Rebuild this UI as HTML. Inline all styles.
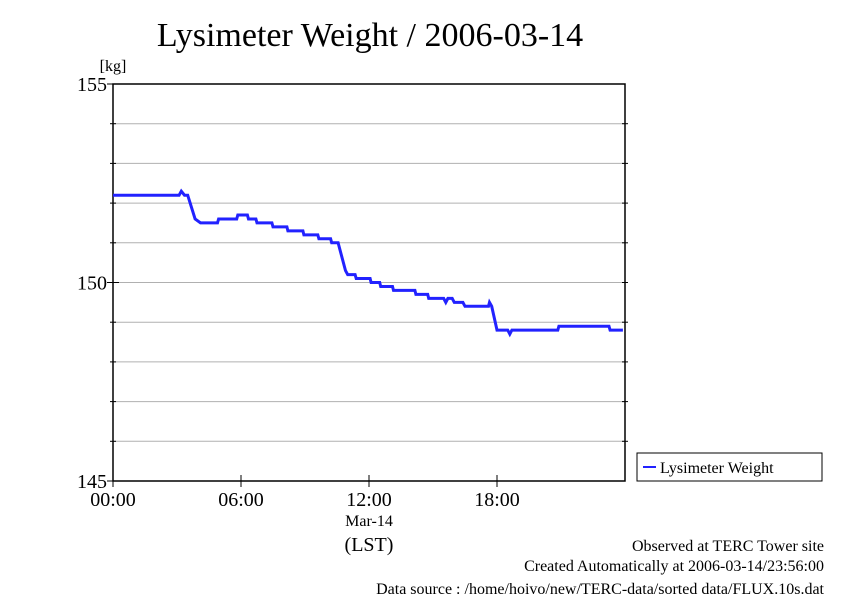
<!DOCTYPE html>
<html><head><meta charset="utf-8"><style>
body{margin:0;background:#fff}
svg text{font-family:"Liberation Serif",serif;fill:#000}
</style></head><body>
<svg id="c" width="842" height="595">
<text x="370" y="46" font-size="34" text-anchor="middle">Lysimeter Weight / 2006-03-14</text>
<text x="113" y="71" font-size="16" text-anchor="middle">[kg]</text>
<g id="grid"></g><g id="axes"></g>
<polyline id="line" fill="none" stroke="#2222ff" stroke-width="3"/>
<text x="369" y="526" font-size="16" text-anchor="middle">Mar-14</text>
<text x="369" y="551" font-size="20" text-anchor="middle">(LST)</text>
<g>
<rect x="637" y="453" width="185" height="28" fill="#fff" stroke="#000"/>
<line x1="643" y1="467" x2="656" y2="467" stroke="#2222ff" stroke-width="2"/>
<text x="660" y="473" font-size="16">Lysimeter Weight</text>
</g>
<text x="824" y="551" font-size="16" text-anchor="end">Observed at TERC Tower site</text>
<text x="824" y="571" font-size="16" text-anchor="end">Created Automatically at 2006-03-14/23:56:00</text>
<text x="824" y="594" font-size="16" text-anchor="end">Data source : /home/hoivo/new/TERC-data/sorted  data/FLUX.10s.dat</text>
</svg>
<script>
const hours=[0,3.1,3.2,3.35,3.5,3.85,4.1,4.9,4.95,5.8,5.85,6.3,6.35,6.7,6.75,7.45,7.5,8.15,8.2,8.9,8.95,9.6,9.65,10.2,10.25,10.55,10.9,11.0,11.35,11.4,12.05,12.1,12.5,12.55,13.1,13.15,14.15,14.2,14.75,14.8,15.5,15.6,15.7,15.9,16.0,16.4,16.5,16.7,17.6,17.65,17.75,18.0,18.5,18.6,18.7,20.85,20.9,23.25,23.3,23.9];
const weights=[152.2,152.2,152.3,152.2,152.2,151.6,151.5,151.5,151.6,151.6,151.7,151.7,151.6,151.6,151.5,151.5,151.4,151.4,151.3,151.3,151.2,151.2,151.1,151.1,151.0,151.0,150.3,150.2,150.2,150.1,150.1,150.0,150.0,149.9,149.9,149.8,149.8,149.7,149.7,149.6,149.6,149.5,149.6,149.6,149.5,149.5,149.4,149.4,149.4,149.5,149.4,148.8,148.8,148.7,148.8,148.8,148.9,148.9,148.8,148.8];
const yTicks=[145,150,155];
const xTickHours=[0,6,12,18];
const xTickLabels=["00:00","06:00","12:00","18:00"];
const L=113,R=625,T=84,B=481,ymin=145,ymax=155;
const X=h=>L+(R-L)*h/24, Y=v=>B-(B-T)*(v-ymin)/(ymax-ymin);
const ns="http://www.w3.org/2000/svg";
function mk(p,tag,a){const e=document.createElementNS(ns,tag);for(const k in a)e.setAttribute(k,a[k]);p.appendChild(e);return e;}
const g=document.getElementById('grid'),ax=document.getElementById('axes');
for(let v=ymin+1;v<ymax;v++){const l=mk(g,'line',{x1:L,x2:R,y1:Y(v),y2:Y(v),stroke:'#b0b0b0'});


mk(ax,'line',{x1:L-3,x2:L+3,y1:Y(v),y2:Y(v),stroke:'#000'});mk(ax,'line',{x1:R-3,x2:R+3,y1:Y(v),y2:Y(v),stroke:'#000'});}
const fr=mk(ax,'rect',{x:L,y:T,width:R-L,height:B-T,fill:'none',stroke:'#000','stroke-width':1.5});


yTicks.forEach(v=>{mk(ax,'line',{x1:L-6,x2:L+6,y1:Y(v),y2:Y(v),stroke:'#000'});
const t=mk(ax,'text',{x:L-6,y:Y(v)+7,'font-size':20,'text-anchor':'end'});t.textContent=v;

});
xTickHours.forEach((h,i)=>{mk(ax,'line',{x1:X(h),x2:X(h),y1:B-6,y2:B+6,stroke:'#000'});
const t=mk(ax,'text',{x:X(h),y:B+25,'font-size':20,'text-anchor':'middle'});t.textContent=xTickLabels[i];

});
let pts=[];hours.forEach((h,i)=>pts.push(X(h).toFixed(1)+','+Y(weights[i]).toFixed(1)));
document.getElementById('line').setAttribute('points',pts.join(' '));
</script>
</body></html>
